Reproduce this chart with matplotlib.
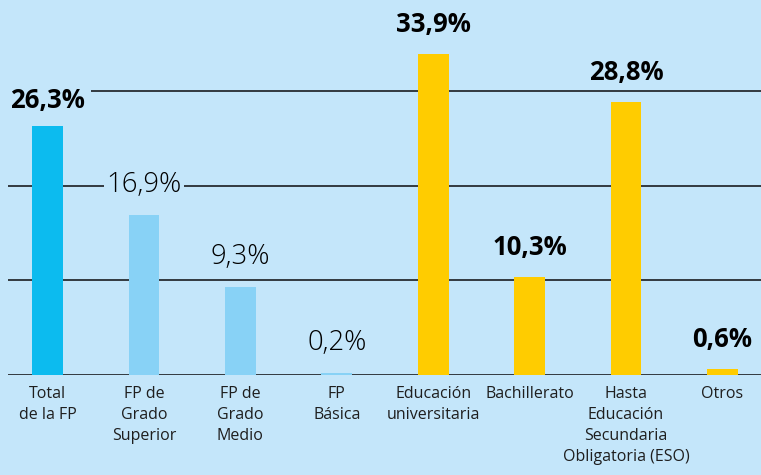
import matplotlib
matplotlib.use("Agg")
import matplotlib.pyplot as plt

categories = ["Total\nde la FP", "FP de\nGrado\nSuperior", "FP de\nGrado\nMedio", "FP\nBásica",
              "Educación\nuniversitaria", "Bachillerato", "Hasta\nEducación\nSecundaria\nObligatoria (ESO)", "Otros"]
values = [26.3, 16.9, 9.3, 0.2, 33.9, 10.3, 28.8, 0.6]
labels = ["26,3%", "16,9%", "9,3%", "0,2%", "33,9%", "10,3%", "28,8%", "0,6%"]
bold = [True, False, False, False, True, True, True, True]
colors = ["#0cbbef", "#88d2f6", "#88d2f6", "#88d2f6", "#ffcc00", "#ffcc00", "#ffcc00", "#ffcc00"]
gridvals = [0, 10, 20, 30]

bg = "#c4e6fa"
plt.rcParams['font.family'] = ['Open Sans', 'DejaVu Sans']

fig = plt.figure(figsize=(7.61, 4.75), dpi=100, facecolor=bg)
ax = fig.add_axes([8/761, 100/475, 753/761, 375/475])
ax.set_facecolor(bg)
ax.set_xlim(-0.41, 7.40)
ax.set_ylim(0, 39.6)
for s in ax.spines.values():
    s.set_visible(False)
ax.set_xticks([])
ax.set_yticks([])

for g in gridvals:
    ax.axhline(g, color="#333a3f", lw=1.4, zorder=1)

x = list(range(len(values)))
ax.bar(x, values, width=0.32, color=colors, zorder=2)

for i, (v, lab, b) in enumerate(zip(values, labels, bold)):
    off = 18.5 if i == 0 else 21.5
    pad = 4 if i == 0 else 1.5
    ax.annotate(lab, (i, v), xytext=(0, off), textcoords="offset points",
                ha="center", va="center", fontsize=18.5 if b else 19.8,
                fontweight="bold" if b else "light", color="black",
                bbox=dict(facecolor=bg, edgecolor="none", pad=pad), zorder=3)
    ax.annotate(categories[i], (i, 0), xytext=(0, -8), textcoords="offset points",
                ha="center", va="top", fontsize=11.5, color="#1e1e1e",
                linespacing=1.42, annotation_clip=False)

fig.savefig("out.png", dpi=100, facecolor=bg)
